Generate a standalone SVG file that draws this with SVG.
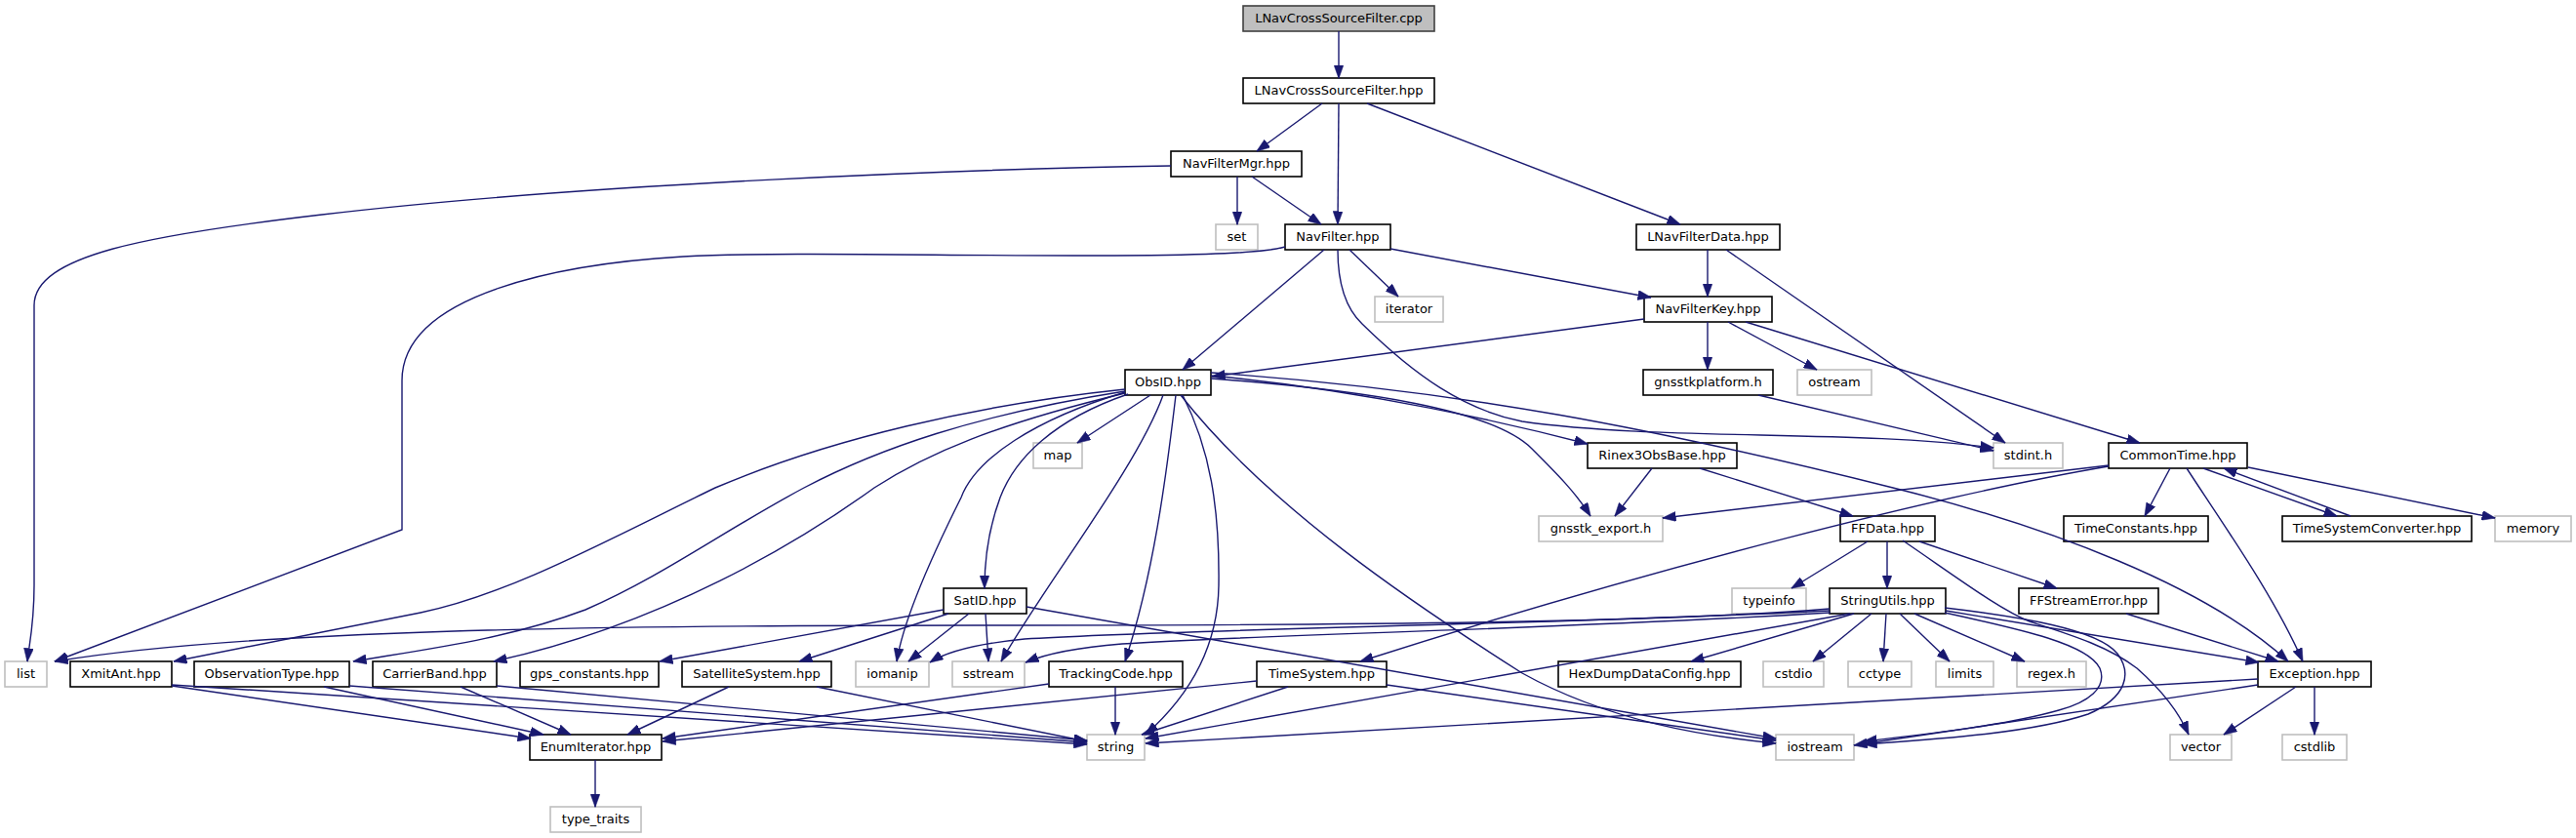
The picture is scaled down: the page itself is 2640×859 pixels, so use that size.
<svg xmlns="http://www.w3.org/2000/svg" width="2640" height="859" viewBox="0 0 2640 859">
<style>
rect{fill:#ffffff;stroke:#000000;stroke-width:1.6}
.g rect{stroke:#bfbfbf}
.root rect{fill:#bfbfbf;stroke:#404040}
text{font-family:"DejaVu Sans","Liberation Sans",sans-serif;font-size:13px;text-anchor:middle;fill:#000000}
#edges path{fill:none;stroke:#191970;stroke-width:1.4;marker-end:url(#a)}
</style>
<defs>
<marker id="a" markerUnits="userSpaceOnUse" markerWidth="14" markerHeight="10" refX="13.5" refY="5" orient="auto">
<path d="M0,0 L14,5 L0,10 z" fill="#191970" stroke="#191970" stroke-width="0.5"/>
</marker>
</defs>
<rect x="0" y="0" width="2640" height="859" style="fill:#ffffff;stroke:none"/>
<g id="nodes">
<g id="n_cpp" class="root"><rect x="1274" y="6" width="196" height="26"/><text x="1372" y="23">LNavCrossSourceFilter.cpp</text></g>
<g id="n_hpp"><rect x="1274" y="80" width="196" height="26"/><text x="1372" y="97">LNavCrossSourceFilter.hpp</text></g>
<g id="n_mgr"><rect x="1200" y="155" width="134" height="26"/><text x="1267" y="172">NavFilterMgr.hpp</text></g>
<g id="n_set" class="g"><rect x="1246" y="230" width="43" height="26"/><text x="1267.5" y="247">set</text></g>
<g id="n_nf"><rect x="1317" y="230" width="108" height="26"/><text x="1371" y="247">NavFilter.hpp</text></g>
<g id="n_lnfd"><rect x="1677" y="230" width="147" height="26"/><text x="1750.5" y="247">LNavFilterData.hpp</text></g>
<g id="n_iter" class="g"><rect x="1409" y="304" width="70" height="26"/><text x="1444" y="321">iterator</text></g>
<g id="n_nfk"><rect x="1685" y="304" width="131" height="26"/><text x="1750.5" y="321">NavFilterKey.hpp</text></g>
<g id="n_obsid"><rect x="1153" y="379" width="88" height="26"/><text x="1197" y="396">ObsID.hpp</text></g>
<g id="n_gplat"><rect x="1684" y="379" width="133" height="26"/><text x="1750.5" y="396">gnsstkplatform.h</text></g>
<g id="n_ostream" class="g"><rect x="1842" y="379" width="76" height="26"/><text x="1880" y="396">ostream</text></g>
<g id="n_map" class="g"><rect x="1059" y="454" width="50" height="26"/><text x="1084" y="471">map</text></g>
<g id="n_rinex"><rect x="1627" y="454" width="153" height="26"/><text x="1703.5" y="471">Rinex3ObsBase.hpp</text></g>
<g id="n_stdint" class="g"><rect x="2043" y="454" width="71" height="26"/><text x="2078.5" y="471">stdint.h</text></g>
<g id="n_ct"><rect x="2161" y="454" width="142" height="26"/><text x="2232" y="471">CommonTime.hpp</text></g>
<g id="n_gexp" class="g"><rect x="1577" y="529" width="127" height="26"/><text x="1640.5" y="546">gnsstk_export.h</text></g>
<g id="n_ffd"><rect x="1886" y="529" width="97" height="26"/><text x="1934.5" y="546">FFData.hpp</text></g>
<g id="n_tc"><rect x="2115" y="529" width="148" height="26"/><text x="2189" y="546">TimeConstants.hpp</text></g>
<g id="n_tsc"><rect x="2339" y="529" width="194" height="26"/><text x="2436" y="546">TimeSystemConverter.hpp</text></g>
<g id="n_memory" class="g"><rect x="2557" y="529" width="78" height="26"/><text x="2596" y="546">memory</text></g>
<g id="n_satid"><rect x="967" y="603" width="85" height="26"/><text x="1009.5" y="620">SatID.hpp</text></g>
<g id="n_typeinfo" class="g"><rect x="1775" y="603" width="76" height="26"/><text x="1813" y="620">typeinfo</text></g>
<g id="n_su"><rect x="1875" y="603" width="119" height="26"/><text x="1934.5" y="620">StringUtils.hpp</text></g>
<g id="n_ffse"><rect x="2069" y="603" width="143" height="26"/><text x="2140.5" y="620">FFStreamError.hpp</text></g>
<g id="n_list" class="g"><rect x="5" y="678" width="43" height="26"/><text x="26.5" y="695">list</text></g>
<g id="n_xmit"><rect x="72" y="678" width="104" height="26"/><text x="124" y="695">XmitAnt.hpp</text></g>
<g id="n_obst"><rect x="199" y="678" width="159" height="26"/><text x="278.5" y="695">ObservationType.hpp</text></g>
<g id="n_cb"><rect x="382" y="678" width="127" height="26"/><text x="445.5" y="695">CarrierBand.hpp</text></g>
<g id="n_gps"><rect x="533" y="678" width="142" height="26"/><text x="604" y="695">gps_constants.hpp</text></g>
<g id="n_ss"><rect x="699" y="678" width="153" height="26"/><text x="775.5" y="695">SatelliteSystem.hpp</text></g>
<g id="n_iomanip" class="g"><rect x="877" y="678" width="75" height="26"/><text x="914.5" y="695">iomanip</text></g>
<g id="n_sstream" class="g"><rect x="976" y="678" width="74" height="26"/><text x="1013" y="695">sstream</text></g>
<g id="n_trk"><rect x="1075" y="678" width="137" height="26"/><text x="1143.5" y="695">TrackingCode.hpp</text></g>
<g id="n_ts"><rect x="1288" y="678" width="133" height="26"/><text x="1354.5" y="695">TimeSystem.hpp</text></g>
<g id="n_hex"><rect x="1597" y="678" width="187" height="26"/><text x="1690.5" y="695">HexDumpDataConfig.hpp</text></g>
<g id="n_cstdio" class="g"><rect x="1807" y="678" width="62" height="26"/><text x="1838" y="695">cstdio</text></g>
<g id="n_cctype" class="g"><rect x="1894" y="678" width="65" height="26"/><text x="1926.5" y="695">cctype</text></g>
<g id="n_limits" class="g"><rect x="1984" y="678" width="59" height="26"/><text x="2013.5" y="695">limits</text></g>
<g id="n_regex" class="g"><rect x="2067" y="678" width="71" height="26"/><text x="2102.5" y="695">regex.h</text></g>
<g id="n_exc"><rect x="2314" y="678" width="116" height="26"/><text x="2372" y="695">Exception.hpp</text></g>
<g id="n_enum"><rect x="543" y="753" width="135" height="26"/><text x="610.5" y="770">EnumIterator.hpp</text></g>
<g id="n_string" class="g"><rect x="1114" y="753" width="59" height="26"/><text x="1143.5" y="770">string</text></g>
<g id="n_iostream" class="g"><rect x="1820" y="753" width="80" height="26"/><text x="1860" y="770">iostream</text></g>
<g id="n_vector" class="g"><rect x="2224" y="753" width="63" height="26"/><text x="2255.5" y="770">vector</text></g>
<g id="n_cstdlib" class="g"><rect x="2339" y="753" width="66" height="26"/><text x="2372" y="770">cstdlib</text></g>
<g id="n_tt" class="g"><rect x="564" y="827" width="93" height="26"/><text x="610.5" y="844">type_traits</text></g>
</g>
<g id="edges">
<path d="M1372,32 L1372,80"/>
<path d="M1355,106 L1288,155"/>
<path d="M1372,106 L1371,230"/>
<path d="M1401,106 L1722,230"/>
<path d="M1268,181 L1268,230"/>
<path d="M1283,181 L1354,230"/>
<path d="M1200,170 C1000,173 600,188 330,220 C150,241 35,262 35,313 L35,600 C35,640 30,660 28,678"/>
<path d="M1317,253 C1290,261 1200,262 1100,262 C950,262 800,258 700,263 C580,270 412,300 412,390 L412,543 L56,678"/>
<path d="M1357,256 L1212,379"/>
<path d="M1383,256 L1433,304"/>
<path d="M1425,255 L1692,305"/>
<path d="M1371,256 C1371,290 1378,315 1396,332 C1450,385 1500,420 1560,432 C1700,452 1900,440 2043,459"/>
<path d="M1750,256 L1750,304"/>
<path d="M1769,256 L2055,454"/>
<path d="M1685,327 L1242,386"/>
<path d="M1750,330 L1750,379"/>
<path d="M1771,330 L1862,379"/>
<path d="M1789,330 L2193,454"/>
<path d="M1802,405 L2043,462"/>
<path d="M1179,405 L1104,454"/>
<path d="M1156,404 C1080,430 1040,470 1025,510 C1012,545 1009,575 1009,603"/>
<path d="M1153,402 C1060,430 1000,470 985,510 C950,580 925,640 919,678"/>
<path d="M1192,405 C1165,480 1070,600 1026,678"/>
<path d="M1205,405 C1195,490 1182,590 1153,678"/>
<path d="M1212,405 C1240,460 1250,520 1249,600 C1248,680 1200,730 1174,753"/>
<path d="M1210,405 C1300,520 1450,620 1560,690 C1650,740 1750,755 1820,762"/>
<path d="M1241,385 C1400,400 1550,435 1627,455"/>
<path d="M1241,388 C1400,400 1530,420 1570,460 C1595,485 1615,505 1630,529"/>
<path d="M1241,382 C1500,400 1700,440 1940,500 C2100,540 2260,600 2345,678"/>
<path d="M1153,399 C1000,415 850,450 733,500 C620,555 520,610 431,628 L178,678"/>
<path d="M1153,401 C1000,425 900,460 824,500 C740,545 680,590 600,625 C520,655 440,665 362,678"/>
<path d="M1153,403 C1020,435 950,465 896,500 C820,555 680,640 506,678"/>
<path d="M967,625 L676,678"/>
<path d="M972,629 L819,678"/>
<path d="M993,629 L931,678"/>
<path d="M1010,629 L1013,678"/>
<path d="M1052,622 L1820,757"/>
<path d="M1875,624 C1700,638 1400,641 1000,641 C600,641 250,646 56,678"/>
<path d="M1875,626 C1600,640 1200,645 1050,655 C1000,660 970,668 953,679"/>
<path d="M1876,628 C1600,645 1300,650 1150,660 C1100,664 1070,671 1051,679"/>
<path d="M1896,629 L1174,757"/>
<path d="M1900,629 L1733,678"/>
<path d="M1918,629 L1858,678"/>
<path d="M1933,629 L1930,678"/>
<path d="M1947,629 L1998,678"/>
<path d="M1962,629 L2075,678"/>
<path d="M1994,626 L2315,679"/>
<path d="M1950,554 C2010,595 2050,625 2080,637 C2120,650 2160,662 2190,685 C2215,707 2233,730 2243,753"/>
<path d="M1993,623 C2070,632 2150,645 2170,670 C2185,690 2180,715 2140,732 C2080,752 1980,758 1910,763"/>
<path d="M1993,628 C2070,645 2140,660 2152,685 C2160,705 2140,720 2110,728 C2050,745 1960,754 1910,760"/>
<path d="M1914,555 L1836,603"/>
<path d="M1934,555 L1934,603"/>
<path d="M1967,555 L2108,603"/>
<path d="M1693,480 L1655,529"/>
<path d="M1742,480 L1899,529"/>
<path d="M2161,477 L1704,531"/>
<path d="M2161,478 C2000,505 1700,580 1394,678"/>
<path d="M2224,480 L2198,529"/>
<path d="M2241,480 C2280,540 2330,610 2360,678"/>
<path d="M2258,480 L2395,529"/>
<path d="M2409,529 L2279,480"/>
<path d="M2304,479 L2557,531"/>
<path d="M2179,629 L2335,678"/>
<path d="M2314,696 L1174,762"/>
<path d="M2314,702 L1900,764"/>
<path d="M2353,704 L2279,753"/>
<path d="M2372,704 L2372,753"/>
<path d="M1288,698 L679,760"/>
<path d="M1320,704 L1170,753"/>
<path d="M1421,702 L1820,759"/>
<path d="M1075,701 L679,757"/>
<path d="M1143,704 L1143,753"/>
<path d="M747,704 L643,753"/>
<path d="M837,704 L1114,760"/>
<path d="M176,703 L544,757"/>
<path d="M176,702 L1114,763"/>
<path d="M332,704 L557,753"/>
<path d="M358,703 L1114,761"/>
<path d="M472,704 L585,753"/>
<path d="M509,703 L1114,759"/>
<path d="M610,779 L610,827"/>
</g>
</svg>
